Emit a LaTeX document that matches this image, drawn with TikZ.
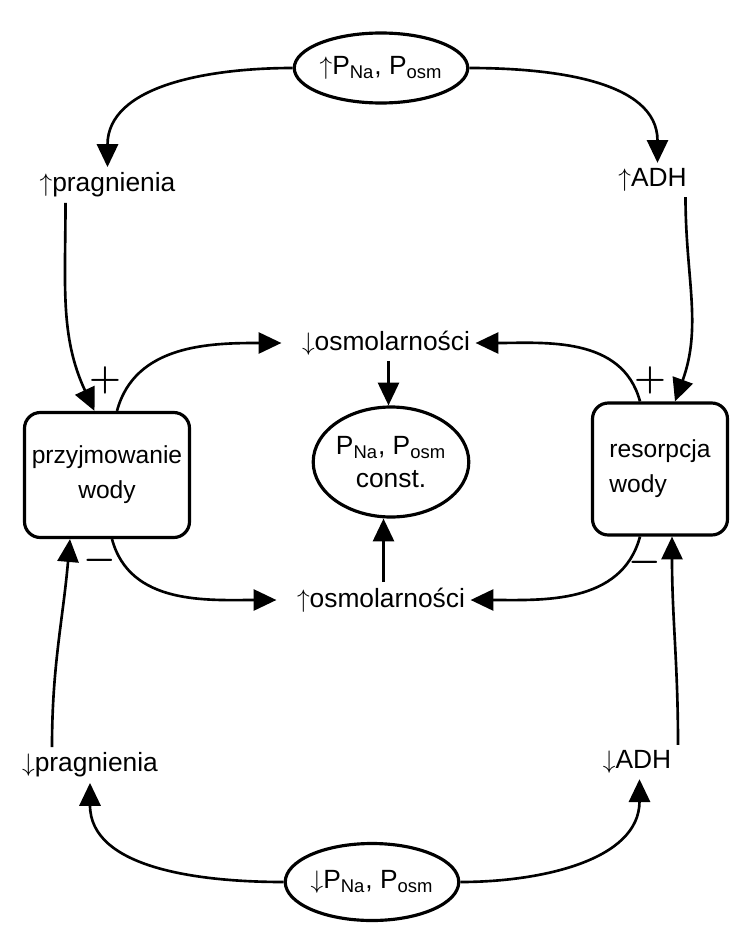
\documentclass[tikz,border=0pt]{standalone}
\usepackage{fontspec}
\setmainfont{Liberation Sans}
\usetikzlibrary{arrows.meta,shapes.geometric}

\begin{document}
\begin{tikzpicture}[
    font=\fontsize{15}{19}\selectfont,
    oval/.style={draw,ellipse,line width=1.8pt,inner sep=0pt},
    box/.style={draw,rounded corners=9pt,line width=1.8pt,inner sep=0pt,font=\fontsize{14}{20}\selectfont},
    lbl/.style={inner sep=3pt},
    sign/.style={font=\fontsize{20}{20}\selectfont\boldmath},
    flow/.style={-{Triangle[length=13pt,width=12pt]},line width=1.5pt}
]
    \useasboundingbox (0,0) rectangle (14.78,-18.82);
    % Plasma Na and osmolality
    \node[oval,minimum width=3.24cm,minimum height=1.4cm] (hiP) at (7.62,-1.36) {$\uparrow$P\textsubscript{Na}, P\textsubscript{osm}};
    \node[oval,minimum width=3.2cm,minimum height=1.54cm] (loP) at (7.44,-17.64) {$\downarrow$P\textsubscript{Na}, P\textsubscript{osm}};
    \node[oval,minimum width=2.84cm,minimum height=2.2cm,align=center] (const) at (7.82,-9.24) {P\textsubscript{Na}, P\textsubscript{osm}\\const.};
    % Thirst and ADH
    \node[lbl] (hiThirst) at (2.15,-3.7) {$\uparrow$pragnienia};
    \node[lbl] (hiADH) at (13.05,-3.6) {$\uparrow$ADH};
    \node[lbl] (loThirst) at (1.8,-15.3) {$\downarrow$pragnienia};
    \node[lbl] (loADH) at (12.74,-15.24) {$\downarrow$ADH};
    % Effector boxes
    \node[box,minimum width=3.3cm,minimum height=2.5cm,align=center] (intake) at (2.14,-9.5) {przyjmowanie\\wody};
    \node[box,minimum width=2.7cm,minimum height=2.64cm,align=left] (resorp) at (13.2,-9.38) {resorpcja\\wody};
    % Osmolality changes
    \node[lbl] (loOsm) at (7.72,-6.86) {$\downarrow$osmolarności};
    \node[lbl] (hiOsm) at (7.62,-12.0) {$\uparrow$osmolarności};
    % Signs
    \node[sign] (plusL) at (2.1,-7.6) {$+$};
    \node[sign] (plusR) at (13.0,-7.6) {$+$};
    \node[sign] (minusL) at (2.0,-11.2) {$-$};
    \node[sign] (minusR) at (12.9,-11.25) {$-$};
    % Arrows from the ovals
    \draw[flow] (hiP.west) to[out=180,in=90] (hiThirst.north);
    \draw[flow] (hiP.east) to[out=0,in=90] ([xshift=0.1cm]hiADH.north);
    \draw[flow] (loP.west) to[out=180,in=-90] (loThirst.south);
    \draw[flow] (loP.east) to[out=0,in=-90] ([xshift=0.05cm]loADH.south);
    % Into the boxes
    \draw[flow] ([xshift=-0.84cm]hiThirst.south) to[out=-90,in=115] ([xshift=-0.25cm]intake.north);
    \draw[flow] ([xshift=0.66cm]hiADH.south) to[out=-90,in=70] ([xshift=0.3cm]resorp.north);
    \draw[flow] ([xshift=-0.76cm]loThirst.north) to[out=90,in=-95] ([xshift=-0.74cm]intake.south);
    \draw[flow] ([xshift=0.82cm]loADH.north) to[out=90,in=-90] ([xshift=0.24cm]resorp.south);
    % Out of the boxes
    \draw[flow] ([xshift=0.2cm]intake.north) to[out=75,in=180] ([xshift=-0.3cm]loOsm.west);
    \draw[flow] ([xshift=-0.4cm]resorp.north) to[out=105,in=0] (loOsm.east);
    \draw[flow] ([xshift=0.1cm]intake.south) to[out=-75,in=180] ([xshift=-0.3cm]hiOsm.west);
    \draw[flow] ([xshift=-0.4cm]resorp.south) to[out=-105,in=0] (hiOsm.east);
    % To the steady state
    \draw[flow] ([xshift=0.05cm]loOsm.south) -- ([xshift=0.05cm]loOsm.south |- const.north);
    \draw[flow] ([xshift=0.05cm]hiOsm.north) -- ([xshift=0.05cm]hiOsm.north |- const.south);
\end{tikzpicture}
\end{document}
